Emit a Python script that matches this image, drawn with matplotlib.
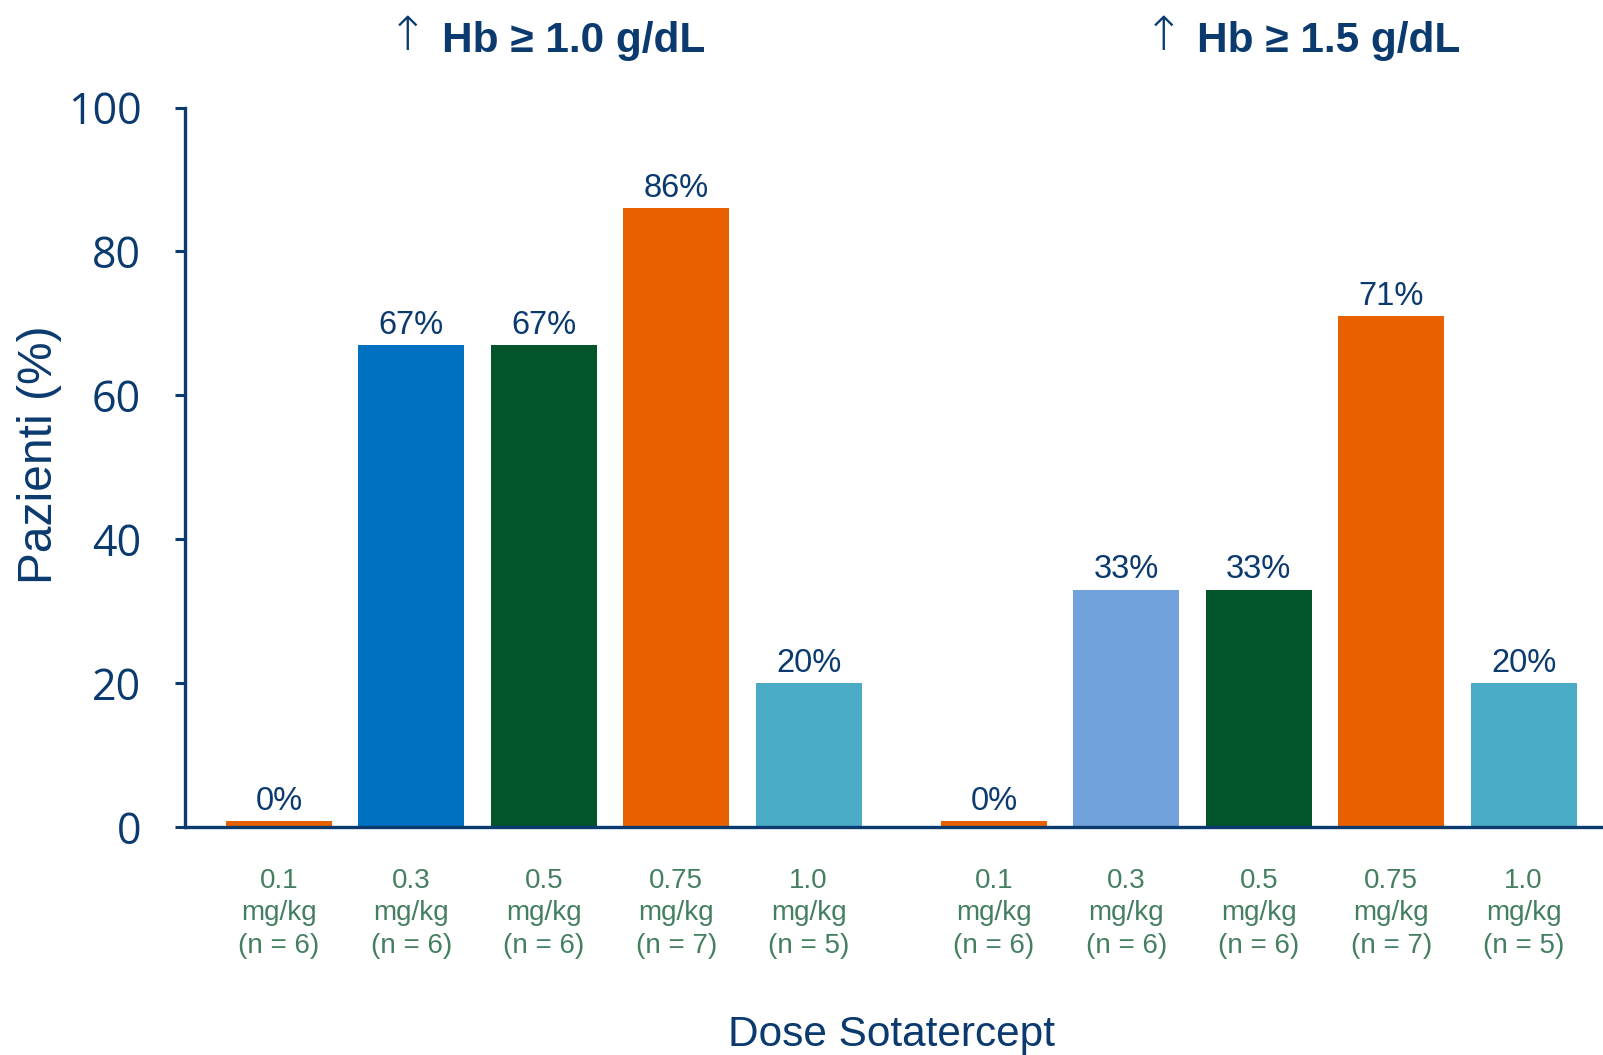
import matplotlib
matplotlib.use("Agg")
import matplotlib.pyplot as plt
import numpy as np

# Data
doses = ["0.1", "0.3", "0.5", "0.75", "1.0"]
n_patients = [6, 6, 6, 7, 5]
hb10_values = [0, 67, 67, 86, 20]
hb15_values = [0, 33, 33, 71, 20]
group_titles = ["Hb \u2265 1.0 g/dL", "Hb \u2265 1.5 g/dL"]
hb10_colors = ["#e86100", "#0070c0", "#02552a", "#e86100", "#4aabc6"]
hb15_colors = ["#e86100", "#71a2db", "#02552a", "#e86100", "#4aabc6"]
y_ticks = [0, 20, 40, 60, 80, 100]

navy = "#0b3a6f"
green = "#447f60"

fig = plt.figure(figsize=(16.03, 10.55), dpi=100)
ax = fig.add_axes([185/1603, 1 - 827/1055, 1 - 185/1603, (827 - 107.5)/1055])

group_gap = 5.4
width = 0.8
min_visible = 0.8
title_x = [2.224, 7.93]

title_texts = []
for g, (vals, cols) in enumerate([(hb10_values, hb10_colors), (hb15_values, hb15_colors)]):
    xs = np.arange(len(vals)) + g * group_gap
    heights = [max(v, min_visible) for v in vals]
    ax.bar(xs, heights, width=width, color=cols, zorder=2)
    for x, v, h in zip(xs, vals, heights):
        ax.annotate(f"{v}%", (x, h), xytext=(0, 3), textcoords="offset points",
                    ha="center", va="bottom", fontsize=23.5, color=navy,
                    family="Liberation Sans")
    for x, d, n in zip(xs, doses, n_patients):
        ax.text(x, -5.7, f"{d}\nmg/kg\n(n = {n})", ha="center", va="top",
                fontsize=20, color=green, family="Liberation Sans",
                linespacing=1.32, transform=ax.transData)
    t = ax.text(title_x[g], 1.093, group_titles[g], transform=ax.get_xaxis_transform(),
                ha="center", va="center", fontsize=30.5, fontweight="bold", color=navy,
                family="Liberation Sans")
    title_texts.append(t)

ax.set_xlim(-0.71, 4 + group_gap + 0.6)
ax.set_ylim(0, 100)
ax.set_yticks(y_ticks)
ax.set_yticklabels([str(t) for t in y_ticks], fontsize=31, color=navy, family="Open Sans")
ax.set_xticks([])
ax.tick_params(axis="y", direction="out", length=7.5, width=2.2, color=navy, pad=24)

for s in ["top", "right"]:
    ax.spines[s].set_visible(False)
for s in ["left", "bottom"]:
    ax.spines[s].set_color(navy)
    ax.spines[s].set_linewidth(2.4)
ax.spines["bottom"].set_zorder(3)

ax.set_ylabel("Pazienti (%)", fontsize=34.5, color=navy, family="Liberation Sans")
ax.yaxis.set_label_coords(-0.087, 0.517)

fig.text(892/1603, 1 - 1035/1055, "Dose Sotatercept", ha="center", va="center",
         fontsize=30.5, color=navy, family="Liberation Sans")

# arrows to the left of the titles
fig.canvas.draw()
renderer = fig.canvas.get_renderer()
inv = fig.transFigure.inverted()
for t in title_texts:
    bb = t.get_window_extent(renderer)
    x0, y0 = inv.transform((bb.x0 - 14, (bb.y0 + bb.y1) / 2 + 4))
    fig.text(x0, y0, "\u2191", ha="right", va="center", fontsize=34,
             color=navy, family="DejaVu Sans", fontweight="light")

fig.savefig("out.png", dpi=100)
